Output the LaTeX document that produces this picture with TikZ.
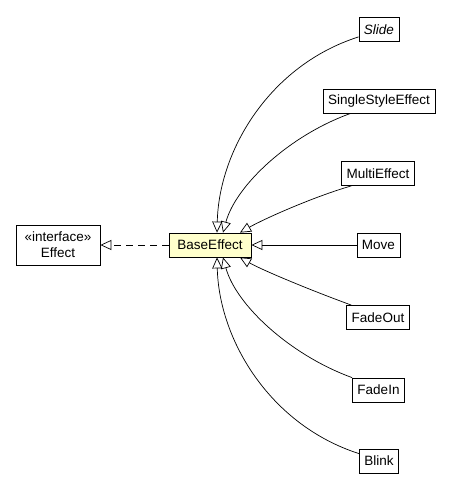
\documentclass[tikz,border=0pt]{standalone}
\usepackage{fontspec}
\setmainfont{Liberation Sans}
\usepackage{xcolor}
\usetikzlibrary{arrows.meta,positioning,shadows}
\definecolor{noteyellow}{HTML}{FFFFCC}

\begin{document}
\begin{tikzpicture}[x=1pt, y=1pt, every node/.style={align=center, font=\fontsize{13.5}{16}\selectfont}]
\tikzset{
  classbox/.style={draw=black, line width=0.8pt, fill=white, minimum height=24pt, inner xsep=5pt, inner ysep=2pt},
  basebox/.style={classbox, fill=noteyellow, minimum width=82pt, drop shadow={shadow xshift=1pt, shadow yshift=-1pt, fill=black!70, opacity=1}},
  extends/.style={-{Triangle[open, length=11pt, width=10pt]}, draw=black, line width=0.7pt},
  realizes/.style={extends, dash pattern=on 7pt off 5pt}
}
\useasboundingbox (0,0) rectangle (453,-491);
\node[classbox, minimum width=84pt, minimum height=40pt] (effect) at (58,-245) {«interface»\\Effect};
\node[basebox] (base) at (210,-245) {BaseEffect};
\node[classbox] (slide) at (379,-29.5) {\textit{Slide}};
\node[classbox] (single) at (379,-101) {SingleStyleEffect};
\node[classbox] (multi) at (378,-173.5) {MultiEffect};
\node[classbox] (move) at (378.5,-245) {Move};
\node[classbox] (fadeout) at (378,-317.5) {FadeOut};
\node[classbox] (fadein) at (378.5,-390) {FadeIn};
\node[classbox] (blink) at (379,-461) {Blink};
% realization
\draw[realizes] (base.west) -- (effect.east);
% generalizations
\draw[extends] ([yshift=5pt]slide.south west) .. controls (270,-65) and (219,-150) .. ([xshift=7pt]base.north);
\draw[extends] ([xshift=28pt]single.south west) .. controls (290,-135) and (236,-185) .. ([xshift=13pt]base.north);
\draw[extends] ([xshift=10pt]multi.south west) .. controls (310,-198) and (262,-220) .. ([xshift=30pt]base.north);
\draw[extends] (move.west) -- (base.east);
\draw[extends] ([xshift=5pt]fadeout.north west) .. controls (310,-290) and (262,-270) .. ([xshift=30pt]base.south);
\draw[extends] (fadein.north west) .. controls (290,-355) and (236,-305) .. ([xshift=13pt]base.south);
\draw[extends] ([yshift=-5pt]blink.north west) .. controls (270,-425) and (219,-340) .. ([xshift=7pt]base.south);
\end{tikzpicture}
\end{document}
